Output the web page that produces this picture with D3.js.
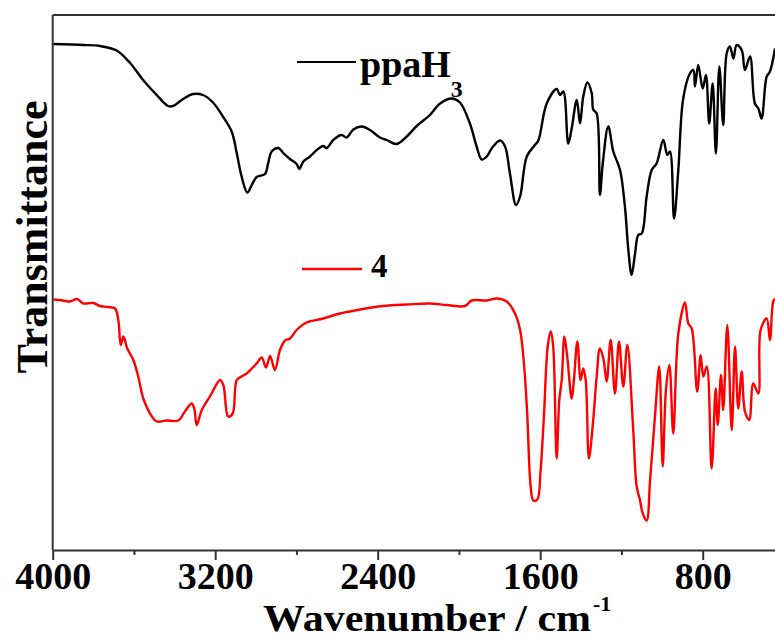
<!DOCTYPE html>
<html>
<head>
<meta charset="utf-8">
<script src="https://cdn.jsdelivr.net/npm/d3@7"></script>
<style>
  html, body { margin: 0; padding: 0; background: #fff; }
  svg { display: block; }
  text { font-family: "Liberation Serif", "Times New Roman", serif; font-weight: bold; fill: #000; }
</style>
</head>
<body>
<svg id="chart" width="775" height="640"></svg>
<script>
// ---- data ----
const ppaH3Wavenumber = [3997,3849,3767,3685,3619,3555,3488,3432,3408,3358,3309,3260,3211,3162,3119,3094,3070,3042,3020,2996,2955,2939,2922,2889,2865,2832,2799,2786,2766,2733,2700,2668,2651,2619,2577,2553,2520,2479,2438,2389,2356,2307,2257,2208,2143,2093,2036,1995,1946,1913,1888,1863,1839,1798,1773,1749,1719,1699,1666,1626,1609,1568,1519,1503,1486,1462,1445,1420,1404,1388,1368,1346,1339,1322,1306,1292,1265,1240,1207,1183,1166,1150,1133,1117,1100,1076,1051,1027,994,974,961,941,920,896,863,846,838,822,800,784,768,751,735,718,699,682,666,649,633,608,592,567,543,526,510,485,469,444];
const ppaH3T = [101.2,101,100.8,99.9,97.4,94,91,88.8,88.8,90.2,91.2,91,89.5,86.7,83.7,79.4,74.7,71.5,73,74.6,75.2,77.4,79.7,80.4,79.4,78.2,77.2,76.2,77.7,78.7,80,80.8,80.4,82,83,82.5,84.1,84.7,84,82.5,82,81.2,82.7,84.8,87,89.3,90.3,89.5,85.3,80.7,78.1,78.7,80.3,81.9,80.7,75.3,69,70.7,78.7,81,81.9,89.3,92.2,91,91.7,81.3,84.3,90,85.3,90.7,93.5,91.3,88.1,87.3,71,77.3,84.7,79.7,76,68.7,60,55,59.3,63,63.3,70.7,76,77.3,82,79,79.7,66.3,76,90.3,95.3,96,92.7,97,92.3,95,85.3,93.3,79.3,96.7,85,99.3,100.7,98.3,101,100,96,98.7,89.3,88.3,86.3,94.7,95.7,100.3];

const c4Wavenumber = [3997,3950,3915,3880,3849,3800,3767,3730,3693,3677,3665,3652,3633,3603,3579,3554,3521,3488,3439,3382,3349,3316,3303,3291,3266,3226,3176,3160,3136,3114,3094,3070,3045,3020,2996,2971,2950,2930,2906,2881,2856,2832,2799,2750,2668,2586,2487,2372,2257,2143,2060,1970,1937,1863,1814,1765,1724,1699,1680,1664,1647,1634,1614,1598,1581,1563,1548,1536,1519,1506,1494,1481,1467,1445,1434,1417,1401,1388,1376,1360,1339,1322,1306,1289,1273,1253,1232,1212,1191,1171,1142,1125,1109,1095,1076,1059,1035,1014,997,981,964,945,920,887,871,854,827,810,797,780,756,736,726,710,699,679,657,641,625,608,592,571,551,526,515,485,469,453,444];
const c4T = [50.1,49.9,49.7,50.2,49.3,49.4,48.8,48.6,48.3,46,41,42.7,40.3,38,34.7,30.3,27.3,25.7,25.9,25.9,27.7,29.3,28.3,25,28,30.7,34,33,26.7,27.3,34,34.7,35.3,36.3,37.3,38.5,36.5,38.8,36,40,41.9,42.3,44,45.5,46.3,47.3,48.1,48.8,49.1,49.3,49,48.8,49.9,49.9,50.3,49.7,47.3,44,37.3,27.3,12.7,9.9,10.1,16,27.3,40.7,43.7,40.7,18.3,30,34,42.7,38.7,30.3,34,41.7,34,36.3,34,18.3,26,34.7,40.3,38.3,33.7,42,31.3,41.7,32.7,41,24,12.7,10,7.3,5.9,14,26.7,36.7,16.7,32,37,23.3,43.3,49.5,45.3,44.3,31.7,39,34.7,36.7,16.3,32.3,25,35,28,45,24,40.7,28.3,35.7,27.7,26,33.3,31.3,44,46.3,42,49.7,50.3];

const xMajorTicks = [4000, 3200, 2400, 1600, 800];
const xMinorTicks = [3600, 2800, 2000, 1200, 400];
const seriesNames = ["ppaH", "4"];
const xTitle = "Wavenumber / cm";
const yTitle = "Transmittance";

// ---- layout ----
const svg = d3.select("#chart");
const mLeft = 52.7, mTop = 15, mBottom = 550;
const x = d3.scaleLinear().domain([4000, 400]).range([mLeft, mLeft + 9 * 81.25]);
const y = d3.scaleLinear().domain([0, 107]).range([mBottom, mTop]);

// curves
const line = d3.line().x(d => x(d[0])).y(d => y(d[1])).curve(d3.curveCatmullRom.alpha(0.5));
const blackData = ppaH3Wavenumber.map((w, i) => [w, ppaH3T[i]]);
const redData = c4Wavenumber.map((w, i) => [w, c4T[i]]);

svg.append("path").datum(blackData).attr("d", line)
  .attr("fill", "none").attr("stroke", "#000").attr("stroke-width", 2.4)
  .attr("stroke-linejoin", "round");
svg.append("path").datum(redData).attr("d", line)
  .attr("fill", "none").attr("stroke", "#ff0000").attr("stroke-width", 2.4)
  .attr("stroke-linejoin", "round");

// frame
const axisColor = "#333";
svg.append("line").attr("x1", mLeft).attr("x2", 775).attr("y1", mTop).attr("y2", mTop)
  .attr("stroke", axisColor).attr("stroke-width", 2);
svg.append("line").attr("x1", mLeft).attr("x2", mLeft).attr("y1", mTop).attr("y2", mBottom)
  .attr("stroke", axisColor).attr("stroke-width", 2);

// bottom axis (major)
const gx = svg.append("g").attr("transform", `translate(0,${mBottom})`)
  .call(d3.axisBottom(x).tickValues(xMajorTicks).tickSize(10).tickSizeOuter(0).tickPadding(8).tickFormat(d3.format("d")));
gx.select(".domain").attr("stroke", axisColor).attr("stroke-width", 2);
gx.selectAll(".tick line").attr("stroke", axisColor).attr("stroke-width", 2);
gx.selectAll(".tick text")
  .attr("font-family", "Liberation Serif, serif").attr("font-weight", "bold")
  .attr("font-size", 38).attr("fill", "#000").attr("dy", null).attr("y", 39);

// minor ticks
const gm = svg.append("g").attr("transform", `translate(0,${mBottom})`)
  .call(d3.axisBottom(x).tickValues(xMinorTicks).tickSize(5).tickSizeOuter(0).tickFormat(""));
gm.select(".domain").remove();
gm.selectAll(".tick line").attr("stroke", axisColor).attr("stroke-width", 2);

// axis titles
const xt = svg.append("text").attr("x", 263).attr("y", 631).attr("font-size", 38);
xt.append("tspan").attr("textLength", 328).attr("lengthAdjust", "spacingAndGlyphs").text(xTitle);
xt.append("tspan").attr("font-size", 22).attr("dx", 2).attr("dy", -20).text("-1");

svg.append("text").attr("transform", "translate(47,237) rotate(-90)")
  .attr("text-anchor", "middle").attr("font-size", 44).text(yTitle);

// legends
svg.append("line").attr("x1", 297).attr("x2", 356).attr("y1", 62).attr("y2", 62)
  .attr("stroke", "#000").attr("stroke-width", 2);
const l1 = svg.append("text").attr("x", 360).attr("y", 77).attr("font-size", 38);
l1.append("tspan").text(seriesNames[0]);
l1.append("tspan").attr("font-size", 24).attr("dy", 20).text("3");

svg.append("line").attr("x1", 302).attr("x2", 362).attr("y1", 269).attr("y2", 269)
  .attr("stroke", "#ff0000").attr("stroke-width", 2.5);
svg.append("text").attr("x", 371).attr("y", 277).attr("font-size", 33).text(seriesNames[1]);
</script>
</body>
</html>
